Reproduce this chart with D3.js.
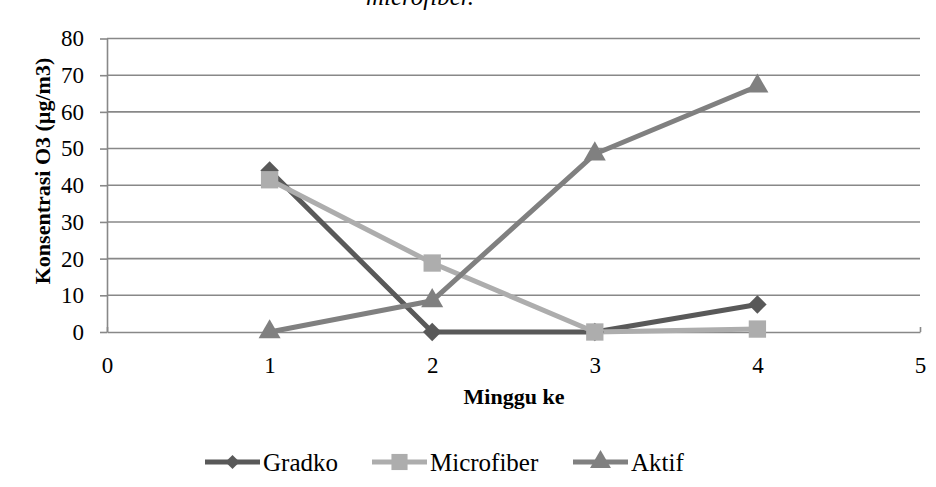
<!DOCTYPE html>
<html>
<head>
<meta charset="utf-8">
<script src="https://cdn.jsdelivr.net/npm/d3@7"></script>
<style>
  body { margin: 0; background: #fff; }
  text { font-family: "Liberation Serif", "Times New Roman", serif; }
</style>
</head>
<body>
<script>
// data
var weeks      = [1, 2, 3, 4];
var gradko     = [44, 0, 0, 7.5];
var microfiber = [41.5, 18.8, 0, 0.8];
var aktif      = [0, 8.5, 48.5, 67];
var seriesNames = ["Gradko", "Microfiber", "Aktif"];
var xTicks = [0, 1, 2, 3, 4, 5];
var yTicks = [0, 10, 20, 30, 40, 50, 60, 70, 80];

var width = 936, height = 487;
var colors = ["#595959", "#adadad", "#808080"];

// diamond like the office one: equal width and height
var diamond = {
  draw: function(ctx, size) {
    var r = Math.sqrt(size / 2);
    ctx.moveTo(0, -r); ctx.lineTo(r, 0); ctx.lineTo(0, r); ctx.lineTo(-r, 0); ctx.closePath();
  }
};
var symbols  = [diamond, d3.symbolSquare, d3.symbolTriangle];
var symSizes = [170, 300, 210];
var legSizes = [100, 260, 190];

var x = d3.scaleLinear().domain([0, 5]).range([107, 920]);
var y = d3.scaleLinear().domain([0, 80]).range([332, 38.5]);

var svg = d3.select("body").append("svg")
  .attr("width", width)
  .attr("height", height);

// caption of the page above, cut by the top edge
svg.append("text")
  .attr("x", 420).attr("y", 5)
  .attr("text-anchor", "middle")
  .style("font-style", "italic")
  .style("font-size", "25px")
  .text("microfiber.");

// gridlines
svg.selectAll(".grid")
  .data(yTicks.slice(1))
  .enter().append("line")
  .attr("x1", x(0)).attr("x2", x(5))
  .attr("y1", d => y(d)).attr("y2", d => y(d))
  .style("stroke", "#888").style("stroke-width", 1.6);

// axes
var yAxis = svg.append("g")
  .attr("transform", "translate(" + x(0) + ",0)")
  .call(d3.axisLeft(y).tickValues(yTicks).tickFormat(d3.format("d"))
    .tickSizeInner(7).tickSizeOuter(0).tickPadding(16));
var xAxis = svg.append("g")
  .attr("transform", "translate(0," + y(0) + ")")
  .call(d3.axisBottom(x).tickValues(xTicks).tickFormat(d3.format("d"))
    .tickSizeInner(5).tickSizeOuter(0).tickPadding(20));
[xAxis, yAxis].forEach(function(g) {
  g.select(".domain").style("stroke", "#888").style("stroke-width", 1.6);
  g.selectAll(".tick line").style("stroke", "#888").style("stroke-width", 1.6);
  g.selectAll("text")
    .style("font-family", "Liberation Serif")
    .style("font-size", "23px")
    .style("fill", "#000");
});
xAxis.selectAll(".tick line").attr("y2", -5);

// axis titles
svg.append("text")
  .attr("x", 514).attr("y", 404)
  .attr("text-anchor", "middle")
  .style("font-weight", "bold").style("font-size", "22px")
  .text("Minggu ke");
svg.append("text")
  .attr("transform", "translate(50,171) rotate(-90)")
  .attr("text-anchor", "middle")
  .style("font-weight", "bold").style("font-size", "22px")
  .text("Konsentrasi O3 (µg/m3)");

// series
var allSeries = [gradko, microfiber, aktif];
var line = d3.line().x((d, i) => x(weeks[i])).y(d => y(d));

allSeries.forEach(function(vals, s) {
  svg.append("path")
    .datum(vals)
    .attr("d", line)
    .style("fill", "none")
    .style("stroke", colors[s])
    .style("stroke-width", 5)
    .style("stroke-linejoin", "round");
});
allSeries.forEach(function(vals, s) {
  svg.selectAll(".m" + s)
    .data(vals)
    .enter().append("path")
    .attr("transform", (d, i) => "translate(" + x(weeks[i]) + "," + y(d) + ")")
    .attr("d", d3.symbol().type(symbols[s]).size(symSizes[s]))
    .style("fill", colors[s]);
});

// legend
var legendX = [205, 372, 573];
var legend = svg.selectAll(".legend")
  .data(seriesNames)
  .enter().append("g")
  .attr("transform", (d, i) => "translate(" + legendX[i] + ",462)");
legend.append("line")
  .attr("x1", 0).attr("x2", 55).attr("y1", 0).attr("y2", 0)
  .style("stroke", (d, i) => colors[i]).style("stroke-width", 5);
legend.append("path")
  .attr("transform", "translate(27.5,0)")
  .attr("d", (d, i) => d3.symbol().type(symbols[i]).size(legSizes[i])())
  .style("fill", (d, i) => colors[i]);
legend.append("text")
  .attr("x", 58).attr("y", 9)
  .style("font-size", "25px")
  .text(d => d);
</script>
</body>
</html>
